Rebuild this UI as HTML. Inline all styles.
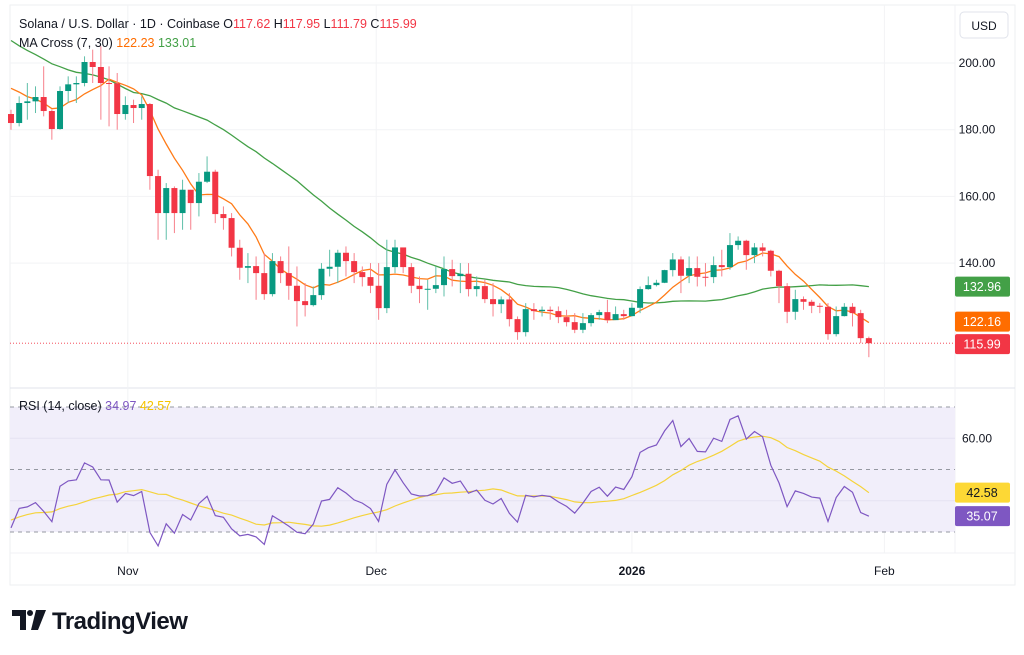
<!DOCTYPE html>
<html><head><meta charset="utf-8"><style>
body{margin:0;background:#fff;width:1024px;height:650px;overflow:hidden;font-family:"Liberation Sans",sans-serif}
svg text{font-family:"Liberation Sans",sans-serif}
</style></head><body>
<svg id="c" width="1024" height="650"></svg>
<script>
const closes=[182,188,188.5,189.8,185.6,180.2,191.6,193.6,194,200.3,198.8,194,193.9,184.7,187.4,186.5,187.7,166.1,155,162.5,155,162,158,164.4,167.4,154.7,153.5,144.6,138.6,139.1,137,130.7,140.6,137,133.2,128.6,127.4,130.4,138.3,138.9,143.1,140.6,137.3,135.8,133.2,126.5,138.8,144.7,138.8,133.2,132.2,132.3,133.4,138.2,136.1,136.8,132.2,133.1,129.2,127.7,129.1,123.2,119.3,126.2,125.6,126,125.6,123.8,122.3,120,122,124.4,125.3,122.9,124.7,124.1,126.6,132.2,133.4,134.1,137.9,141.1,136.2,138.5,135.9,135.8,139.4,138.8,145.4,146.7,142.4,144.7,143.7,137.7,133.1,125.4,129.2,128.4,127.2,126.9,118.7,124.1,126.9,125,117.5,115.99];
const firstOpen=184.7;
const highs=[186,190,194,193,199,186,193,196,196,202,204,205,199,197,190,189,190,188,168,164,163,165,162,167,172,168,157,155,147,143,142,143,143,142,145,139,134,133,140,144,144,145,143,139,140,140,147,147,143,140,136,135,139,142,141,140,140,136,135,134,130,131,124,128,128,127,127,127,126,125,125,125,126,129,127,126,128,133,136,135,138,143,142,142,142,140,142,144,149,148,147,146,146,144,138,134,132,130,129,128,128,127,128,128,126,117.95];
const lows=[180,181,183,185,184,177,180,188,188,193,194,183,181,180,183,182,183,162,147,147,149,150,150,154,164,152,150,142,135,134,129,129,130,134,129,121,124,127,129,136,134,136,134,133,131,123,125,137,137,131,128,126,131,130,133,131,130,130,128,124,125,121,117,118,123,124,123,122,121,119,119,121,123,122,123,123,124,125,132,133,134,136,131,134,133,133,134,136,138,144,138,140,142,136,128,122,123,126,125,125,117,118,124,121,116,111.79];
const preCloses=[232,235,230,228,226,222,218,222,216,210,212,214,218,225,226,222,198,185,190,194,198,188,186,192,196,198,195,194,192,190];
const priceTicks=[200,180,160,140];
const rsiTicks=[60];
const monthLabels=["Nov","Dec","2026","Feb"];
const monthIdx=[14.3,44.7,76,106.9];

const svg=document.getElementById('c');const NS='http://www.w3.org/2000/svg';
function el(t,a,p){const e=document.createElementNS(NS,t);for(const k in a)e.setAttribute(k,a[k]);(p||svg).appendChild(e);return e;}
const X=i=>11+i*8.17;
const Y=p=>63+(200-p)*3.335;
const RY=r=>407+(70-r)*3.125;
let e=el('rect',{x:10,y:5,width:1005,height:580,fill:'none',stroke:'#eeeff2'});

el('line',{x1:10,y1:388,x2:1015,y2:388,stroke:'#e0e3eb'});
el('line',{x1:955,y1:5,x2:955,y2:553,stroke:'#f0f1f4'});
el('line',{x1:10,y1:553,x2:1015,y2:553,stroke:'#f0f1f4'});
priceTicks.forEach(p=>{el('line',{x1:10,y1:Y(p),x2:955,y2:Y(p),stroke:'#f2f3f5'});
 const t=el('text',{x:977,y:Y(p)+4,'font-size':12,fill:'#131722','text-anchor':'middle'});t.textContent=p.toFixed(2);
 });
monthIdx.forEach((m,k)=>{const x=X(m);el('line',{x1:x,y1:5,x2:x,y2:553,stroke:'#f2f3f5'});
 const t=el('text',{x:x,y:575,'font-size':12,fill:'#131722','text-anchor':'middle','font-weight':monthLabels[k]=='2026'?'bold':'normal'});t.textContent=monthLabels[k];
 });
e=el('rect',{x:10,y:RY(70),width:945,height:RY(30)-RY(70),fill:'#f1eefa'});

[70,50,30].forEach(v=>el('line',{x1:10,y1:RY(v),x2:955,y2:RY(v),stroke:'#9598a1','stroke-dasharray':'4,4','stroke-width':1}));
el('line',{x1:10,y1:RY(60),x2:955,y2:RY(60),stroke:'#e6e2f2'});el('line',{x1:10,y1:RY(40),x2:955,y2:RY(40),stroke:'#e6e2f2'});
rsiTicks.forEach(r=>{const t=el('text',{x:977,y:RY(r)+4,'font-size':12,fill:'#131722','text-anchor':'middle'});t.textContent=r.toFixed(2);});
const all=preCloses.concat(closes);const P=preCloses.length;
function ma(n){return closes.map((c,i)=>{let s=0;for(let k=0;k<n;k++)s+=all[P+i-k];return s/n;});}
const ma7=ma(7),ma30=ma(30);
function line(vals,fy,col,name,w){const d=vals.map((v,i)=>(i?'L':'M')+X(i).toFixed(1)+','+fy(v).toFixed(1)).join('');
 const p=el('path',{d:d,fill:'none',stroke:col,'stroke-width':w||1.3});}
line(ma30,Y,'#43a047','ma30-line');line(ma7,Y,'#ff7b17','ma7-line');
const g=el('g',{});
closes.forEach((c,i)=>{const o=i?closes[i-1]:firstOpen;const up=c>=o;const col=up?'#089981':'#f23645';const x=X(i);
 el('line',{x1:x,y1:Y(highs[i]),x2:x,y2:Y(lows[i]),stroke:up?'#5fbfa9':'#f7808b','stroke-width':1},g);
 const t=Math.min(Y(o),Y(c)),h=Math.max(1,Math.abs(Y(o)-Y(c)));
 const r=el('rect',{x:x-3,y:t,width:6,height:h,fill:col},g);
 });
el('line',{x1:10,y1:Y(115.99),x2:955,y2:Y(115.99),stroke:'#f23645','stroke-dasharray':'1,2','stroke-width':0.8});
const rsiAll=[];{let ag=0,al=0;for(let i=1;i<all.length;i++){const d=all[i]-all[i-1];const gg=Math.max(d,0),ll=Math.max(-d,0);if(i<=14){ag+=gg/14;al+=ll/14;}else{ag=(ag*13+gg)/14;al=(al*13+ll)/14;}rsiAll.push(100-100/(1+ag/(al||1e-9)));}}
const off=rsiAll.length-closes.length;
const rsi=rsiAll.slice(off);
const rsiMa=closes.map((c,i)=>{let s=0;for(let k=0;k<14;k++)s+=rsiAll[off+i-k];return s/14;});
line(rsiMa,RY,'#f5d33b','rsi-ma-line',1.2);line(rsi,RY,'#7e57c2','rsi-line',1.2);
function tag(y,col,txt,tc,name){const r=el('rect',{x:955,y:y-10,width:55,height:20,rx:2,fill:col});
 const t=el('text',{x:982,y:y+4.5,'font-size':12.5,fill:tc,'text-anchor':'middle'});t.textContent=txt;}
tag(Y(ma30[ma30.length-1]),'#43a047',ma30[ma30.length-1].toFixed(2),'#fff','ma30-tag');
tag(Y(ma7[ma7.length-1])-1,'#ff6d00',ma7[ma7.length-1].toFixed(2),'#fff','ma7-tag');
tag(Y(115.99)+1,'#f23645','115.99','#fff','last-price-tag');
tag(RY(rsiMa[rsiMa.length-1]),'#fdd835',rsiMa[rsiMa.length-1].toFixed(2),'#131722','rsi-ma-tag');
tag(RY(rsi[rsi.length-1]),'#7e57c2',rsi[rsi.length-1].toFixed(2),'#fff','rsi-tag');
e=el('rect',{x:960,y:12,width:48,height:26,rx:4,fill:'#fff',stroke:'#e0e3eb'});
let t=el('text',{x:984,y:30,'font-size':12,fill:'#131722','text-anchor':'middle'});t.textContent='USD';
function tx(x,y,s,col,name,sz,w){const t=el('text',{x:x,y:y,'font-size':sz||12.5,fill:col,'font-weight':w||'normal'});t.textContent=s;return t;}
t=el('text',{x:19,y:28,'font-size':12.5,fill:'#131722'});
t.innerHTML='Solana / U.S. Dollar · 1D · Coinbase  O<tspan fill="#f23645">117.62</tspan>  H<tspan fill="#f23645">117.95</tspan>  L<tspan fill="#f23645">111.79</tspan>  C<tspan fill="#f23645">115.99</tspan>';
t=el('text',{x:19,y:47,'font-size':12.5,fill:'#131722'});
t.innerHTML='MA Cross (7, 30)  <tspan fill="#ff6d00">122.23</tspan>  <tspan fill="#43a047">133.01</tspan>';
t=el('text',{x:19,y:410,'font-size':12.5,fill:'#131722'});
t.innerHTML='RSI (14, close)  <tspan fill="#7e57c2">34.97</tspan>  <tspan fill="#f5c400">42.57</tspan>';
const lg=el('g',{});
el('path',{d:'M12 610h14v20h-6v-14h-8z',fill:'#131722'},lg);el('circle',{cx:30,cy:613,r:3,fill:'#131722'},lg);
el('path',{d:'M36 610h10l-8 20h-7z',fill:'#131722'},lg);
tx(52,629,'TradingView','#131722','tradingview-wordmark',24,'bold').setAttribute('letter-spacing','-0.5');
</script></body></html>
